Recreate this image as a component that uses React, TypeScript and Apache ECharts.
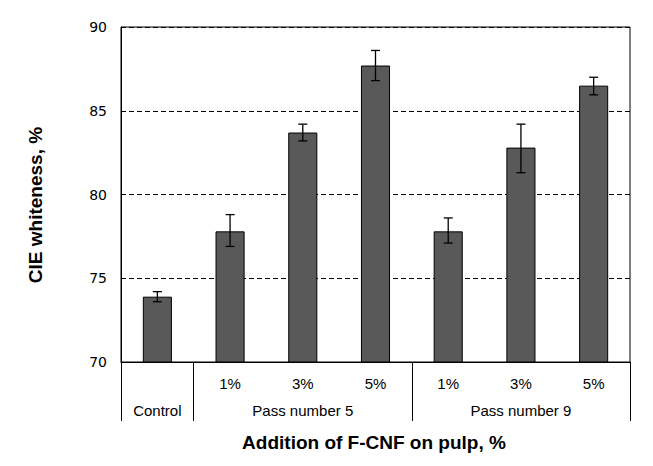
import React, { useEffect, useRef } from "react";
import * as echarts from "echarts";

const categories = ["", "1%", "3%", "5%", "1%", "3%", "5%"];
const whiteness = [73.9, 77.8, 83.7, 87.7, 77.8, 82.8, 86.5];
const errLow = [73.6, 76.9, 83.2, 86.8, 77.1, 81.3, 85.95];
const errHigh = [74.2, 78.8, 84.2, 88.6, 78.6, 84.2, 87.0];
const groupLabels = ["Control", "Pass number 5", "Pass number 9"];
const groupCenters = [0.5, 2.5, 5.5];
const groupBounds = [0, 1, 4, 7];
const yMin = 70;
const yMax = 90;
const yStep = 5;

const ARIAL = "'Liberation Sans', Arial, sans-serif";

export default function App() {
  const ref = useRef<HTMLDivElement>(null);
  useEffect(() => {
    if (!ref.current) return;
    const chart = echarts.init(ref.current, undefined, { renderer: "svg" });
    const option: any = {
      animation: false,
      backgroundColor: "#fff",
      grid: {
        left: 121,
        right: 23,
        top: 27,
        bottom: 104,
        show: true,
        borderColor: "#000",
        borderWidth: 1,
        backgroundColor: "transparent",
      },
      xAxis: [
        {
          type: "category",
          data: categories,
          boundaryGap: true,
          axisLine: { show: true, lineStyle: { color: "#000", width: 1 } },
          axisTick: { show: false },
          axisLabel: {
            color: "#000",
            fontFamily: ARIAL,
            fontSize: 15,
            margin: 14,
          },
        },
        {
          type: "value",
          min: 0,
          max: groupBounds[groupBounds.length - 1],
          position: "bottom",
          axisLine: { show: false },
          splitLine: { show: false },
          axisTick: {
            show: true,
            customValues: groupBounds,
            length: 59,
            lineStyle: { color: "#000", width: 1 },
          },
          axisLabel: {
            customValues: groupCenters,
            formatter: (v: number) => {
              const i = groupCenters.indexOf(v);
              return i >= 0 ? groupLabels[i] : "";
            },
            color: "#000",
            fontFamily: ARIAL,
            fontSize: 15,
            margin: 41,
          },
        },
      ],
      yAxis: {
        type: "value",
        min: yMin,
        max: yMax,
        interval: yStep,
        axisLine: { show: true, lineStyle: { color: "#000", width: 1 } },
        axisTick: { show: false },
        axisLabel: {
          color: "#000",
          fontFamily: "'DejaVu Sans', Verdana, sans-serif",
          fontSize: 14,
          margin: 14,
        },
        splitLine: {
          show: true,
          lineStyle: { color: "#000", type: [5, 3], width: 1 },
        },
      },
      graphic: [
        {
          type: "text",
          x: 35,
          y: 205,
          rotation: Math.PI / 2,
          style: {
            text: "CIE whiteness, %",
            fontFamily: ARIAL,
            fontWeight: "bold",
            fontSize: 19,
            fill: "#000",
            textAlign: "center",
            textVerticalAlign: "middle",
          },
        },
        {
          type: "text",
          x: 374,
          y: 442,
          style: {
            text: "Addition of F-CNF on pulp, %",
            fontFamily: ARIAL,
            fontWeight: "bold",
            fontSize: 19,
            fill: "#000",
            textAlign: "center",
            textVerticalAlign: "middle",
          },
        },
      ],
      series: [
        {
          type: "bar",
          data: whiteness,
          barWidth: "40%",
          itemStyle: { color: "#595959", borderColor: "#000", borderWidth: 1 },
          z: 2,
        },
        {
          type: "custom",
          z: 3,
          data: whiteness.map((_, i) => [i, errLow[i], errHigh[i]]),
          renderItem: (params: any, api: any) => {
            const x = api.value(0);
            const lo = api.coord([x, api.value(1)]);
            const hi = api.coord([x, api.value(2)]);
            const half = 4.5;
            const style = { stroke: "#000", lineWidth: 1.3 };
            return {
              type: "group",
              children: [
                { type: "line", shape: { x1: lo[0], y1: lo[1], x2: hi[0], y2: hi[1] }, style },
                { type: "line", shape: { x1: hi[0] - half, y1: hi[1], x2: hi[0] + half, y2: hi[1] }, style },
                { type: "line", shape: { x1: lo[0] - half, y1: lo[1], x2: lo[0] + half, y2: lo[1] }, style },
              ],
            };
          },
        },
      ],
    };
    chart.setOption(option);
    return () => chart.dispose();
  }, []);
  return (
    <div
      ref={ref}
      style={{ position: "fixed", left: 0, top: 0, width: 653, height: 466 }}
    />
  );
}
